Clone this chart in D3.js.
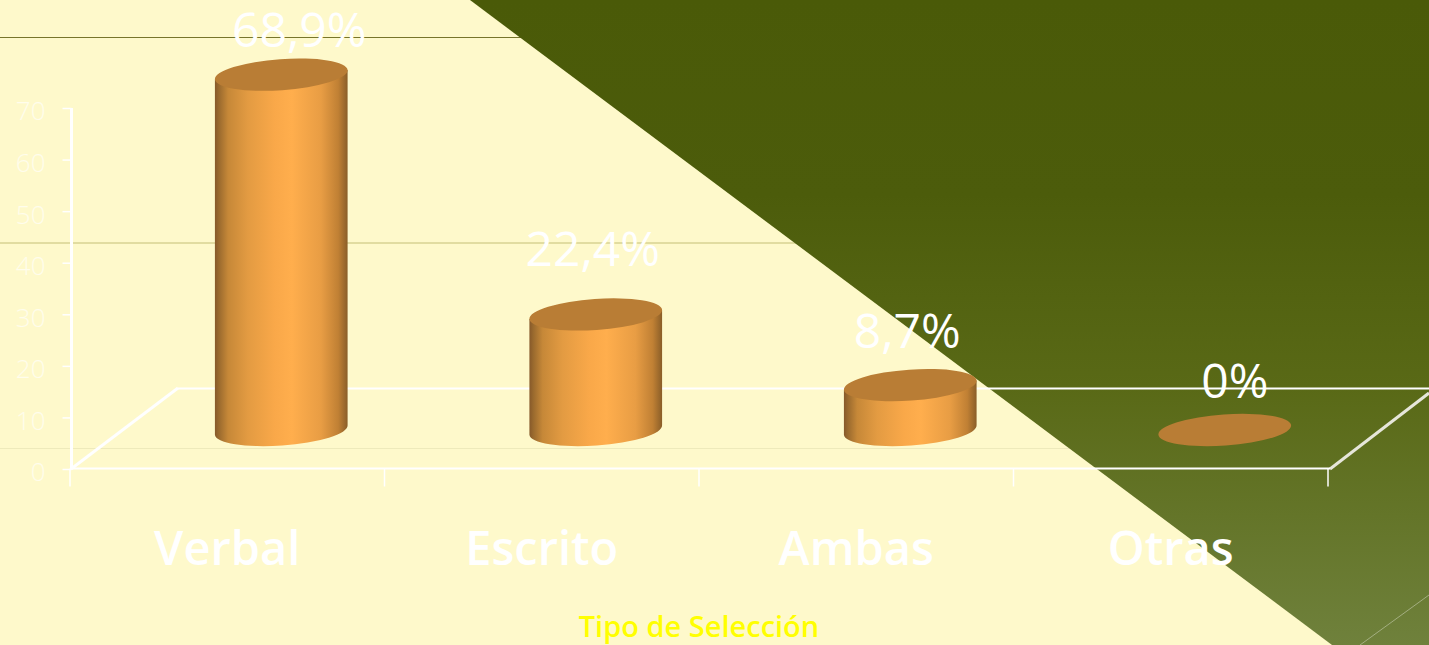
<!DOCTYPE html>
<html><head><meta charset="utf-8">
<script src="https://cdnjs.cloudflare.com/ajax/libs/d3/7.8.5/d3.min.js"></script>
<style>html,body{margin:0;padding:0;overflow:hidden;background:#FEF9CB}svg{display:block}text{font-family:"Open Sans",sans-serif}</style>
</head><body><svg id="c" width="1429" height="645"></svg>
<script>
const categories = ["Verbal","Escrito","Ambas","Otras"];
const values = [68.9,22.4,8.7,0];
const valueLabels = ["68,9%","22,4%","8,7%","0%"];
const yTicks = [0,10,20,30,40,50,60,70];
const axisTitle = "Tipo de Selección";

const svg = d3.select("#c");
const x = d3.scaleBand().domain(categories).range([70,1328]);
const y = d3.scaleLinear().domain([0,70]).range([469,108]);
const depth = {dx:54,dy:-39}, rx=66.5, ry=15.5, tilt=-4;
const labelShift = [{x:18,y:-28},{x:-3,y:-48},{x:-3,y:-37},{x:10,y:-32}];
const tiltX = rx*Math.cos(tilt*Math.PI/180), tiltY = rx*Math.sin(tilt*Math.PI/180);

const defs = svg.append("defs");
const bgG = defs.append("linearGradient").attr("id","bg").attr("x1",0).attr("y1",0).attr("x2",0).attr("y2",1);
[[0,"#4A5A08"],[.3,"#4C5C0B"],[.6,"#596916"],[1,"#6F813C"]].forEach(s=>bgG.append("stop").attr("offset",s[0]).attr("stop-color",s[1]));
const barG = defs.append("linearGradient").attr("id","bar").attr("x1",0).attr("y1",0).attr("x2",1).attr("y2",0);
[[0,"#86592A"],[.03,"#9A6A2E"],[.1,"#C68838"],[.25,"#E39B42"],[.45,"#F9A849"],[.58,"#FFAE4D"],[.8,"#E89D44"],[.93,"#C08034"],[1,"#8A5E28"]]
  .forEach(s=>barG.append("stop").attr("offset",s[0]).attr("stop-color",s[1]));

// background
svg.append("rect").attr("width",1429).attr("height",645).attr("fill","#FEF9CB");
svg.append("line").attr("x1",0).attr("x2",525).attr("y1",37.5).attr("y2",37.5).attr("stroke","#77752B").attr("stroke-width",1);
svg.append("line").attr("x1",0).attr("x2",800).attr("y1",243).attr("y2",243).attr("stroke","#C4BF77").attr("stroke-width",1);
svg.append("line").attr("x1",0).attr("x2",1090).attr("y1",448.5).attr("y2",448.5).attr("stroke","#EEEABB").attr("stroke-width",1);
svg.append("path").attr("d","M470,0L1429,0L1429,645L1332,645Z").attr("fill","url(#bg)");
svg.append("line").attr("x1",1360).attr("y1",645).attr("x2",1429).attr("y2",595).attr("stroke","#A3AE80").attr("stroke-width",1);

// chart frame
const white="#FFFFFF";
svg.append("line").attr("x1",178).attr("x2",1429).attr("y1",388.5).attr("y2",388.5).attr("stroke",white).attr("stroke-width",2);
svg.append("line").attr("x1",71).attr("y1",469).attr("x2",178).attr("y2",388).attr("stroke",white).attr("stroke-width",3);
svg.append("line").attr("x1",1330).attr("y1",469).attr("x2",1429).attr("y2",393).attr("stroke","#E6E6DA").attr("stroke-width",3);

const yAxis = svg.append("g").attr("transform","translate(71.5,0)")
  .call(d3.axisLeft(y).tickValues(yTicks).tickSize(9).tickPadding(17));
yAxis.selectAll("path").attr("stroke",white).attr("stroke-width",3).attr("d","M0,108V469");
yAxis.selectAll("line").attr("stroke",white).attr("stroke-width",1.5);
yAxis.selectAll("text").attr("fill","#FFFDEC").attr("font-size",26).attr("font-weight",300).attr("dy","0.46em").attr("font-family","Lato,'Open Sans',sans-serif");

const xAxis = svg.append("g").attr("transform","translate(0,468.5)");
xAxis.append("line").attr("x1",70).attr("x2",1330).attr("stroke",white).attr("stroke-width",2);
xAxis.selectAll("line.t").data(d3.range(categories.length+1)).join("line").attr("class","t")
  .attr("x1",i=>x.range()[0]+i*x.step()).attr("x2",i=>x.range()[0]+i*x.step())
  .attr("y1",0).attr("y2",18).attr("stroke",white).attr("stroke-width",1.5);
xAxis.selectAll("text").data(categories).join("text")
  .attr("x",d=>x(d)+x.bandwidth()/2).attr("y",96).attr("text-anchor","middle")
  .attr("fill",white).attr("font-size",47).attr("font-weight",600).text(d=>d);

// bars
const g = svg.append("g");
categories.forEach((c,i)=>{
  const cx = x(c)+x.bandwidth()/2+depth.dx;
  const by = y(0)+depth.dy, ty = y(values[i])+depth.dy;
  if(values[i]>0){
    g.append("path").attr("fill","url(#bar)")
      .attr("d",`M${cx-tiltX},${ty-tiltY}L${cx-tiltX},${by-tiltY}A${rx} ${ry} ${tilt} 0 0 ${cx+tiltX} ${by+tiltY}L${cx+tiltX},${ty+tiltY}Z`);
  }
  g.append("ellipse").attr("cx",cx).attr("cy",ty).attr("rx",rx).attr("ry",ry)
    .attr("transform",`rotate(${tilt},${cx},${ty})`).attr("fill","#B97D35");
  g.append("text").attr("x",cx+labelShift[i].x).attr("y",ty+labelShift[i].y).attr("text-anchor","middle")
    .attr("fill",white).attr("font-size",48).attr("font-weight",500).text(valueLabels[i]);
});

svg.append("text").attr("x",699).attr("y",637).attr("text-anchor","middle")
  .attr("fill","#FFFF00").attr("font-size",29).attr("font-weight",600).text(axisTitle);
</script></body></html>
